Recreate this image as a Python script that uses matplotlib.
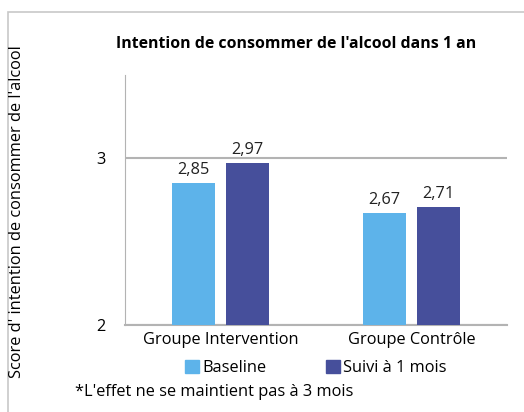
import matplotlib.pyplot as plt
import numpy as np
from matplotlib.patches import Rectangle, Patch

plt.rcParams['font.family'] = ['Open Sans', 'DejaVu Sans']

# data
groups = ['Groupe Intervention', 'Groupe Contrôle']
baseline = [2.85, 2.67]
suivi = [2.97, 2.71]
series_names = ['Baseline', 'Suivi à 1 mois']
colors = ['#5DB3EA', '#464F9B']

fs = 11.8

fig = plt.figure(figsize=(5.24, 4.12), dpi=100)
ax = fig.add_axes([125/524, 1 - 325/412, 382/524, 250/412])

x = np.arange(len(groups))
w = 0.225
off = 0.141
b1 = ax.bar(x - off, baseline, w, color=colors[0], zorder=3, label=series_names[0])
b2 = ax.bar(x + off, suivi, w, color=colors[1], zorder=3, label=series_names[1])

# labels over the bars, decimal comma
for bars, vals in [(b1, baseline), (b2, suivi)]:
    for r, v in zip(bars, vals):
        ax.text(r.get_x() + r.get_width()/2, v + 0.03, f'{v:.2f}'.replace('.', ','),
                ha='center', va='bottom', fontsize=fs, color='#222222')

ax.set_xlim(-0.5, 1.5)
ax.set_ylim(2, 3.5)
ax.set_yticks([2, 3])
ax.set_xticks(x)
ax.set_xticklabels(groups, fontsize=fs)
ax.tick_params(axis='y', labelsize=fs, length=0, pad=14)
ax.tick_params(axis='x', length=0, pad=5)
ax.yaxis.grid(True, color='#b3b3b3', linewidth=1.5, zorder=0)
for s in ['top', 'right']:
    ax.spines[s].set_visible(False)
ax.spines['left'].set_color('#b3b3b3')
ax.spines['bottom'].set_color('#b3b3b3')
ax.spines['bottom'].set_linewidth(1.5)

# title and axis label as figure text
fig.text(296/524, 1 - 44/412, "Intention de consommer de l'alcool dans 1 an",
         ha='center', va='center', fontsize=11.4, fontweight='bold')
fig.text(17/524, 1 - 212/412, "Score d' intention de consommer de l'alcool",
         rotation=90, ha='center', va='center', fontsize=fs)

# legend
handles = [Patch(color=c) for c in colors]
fig.legend(handles, series_names, loc='center', bbox_to_anchor=(316/524, 1 - 368/412),
           ncol=2, frameon=False, fontsize=fs, handlelength=0.85, handleheight=0.85,
           handletextpad=0.2, columnspacing=3.6)

fig.text(75/524, 1 - 392/412, "*L'effet ne se maintient pas à 3 mois",
         ha='left', va='center', fontsize=fs)

# border (cropped at right/bottom in the original)
fig.patches.append(Rectangle((8/524, -0.1), 1.2, 1 - 12/412 + 0.1, transform=fig.transFigure,
                             fill=False, edgecolor='#c8c8c8', linewidth=1.2))

fig.savefig('out.png', dpi=100)
